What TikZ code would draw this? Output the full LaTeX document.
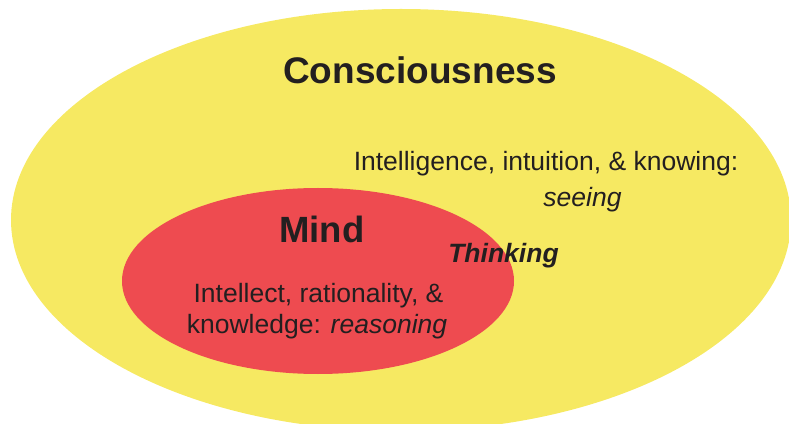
\documentclass[tikz,border=0pt]{standalone}
\usepackage{fontspec}
\setmainfont{Liberation Sans}
\definecolor{yel}{HTML}{F6E962}
\definecolor{redm}{HTML}{EE4B50}
\definecolor{ink}{HTML}{231F20}
\begin{document}
\begin{tikzpicture}[x=1pt,y=1pt,
  lbl/.style={inner sep=0pt,anchor=base,text=ink,font=\fontsize{26.5}{30}\selectfont},
  title/.style={inner sep=0pt,anchor=base,text=ink,font=\fontsize{37}{40}\selectfont\bfseries}]
\useasboundingbox (0,0) rectangle (789,423);
\begin{scope}
\clip (0,0) rectangle (789,423);
\fill[yel] (401,203) ellipse [x radius=390, y radius=211];
\end{scope}
\fill[redm] (318,142) ellipse [x radius=196, y radius=93];
\node[title] (cons) at (420,339) {Consciousness};
\node[lbl] (intel) at (546,252) {Intelligence, intuition, \& knowing:};
\node[lbl] (seeing) at (582.5,216) {\itshape seeing};
\node[lbl,font=\fontsize{26.5}{30}\selectfont\bfseries\itshape] (think) at (503.5,160) {Thinking};
\node[title,font=\fontsize{36.5}{40}\selectfont\bfseries] (mind) at (322,180) {Mind};
\node[lbl] (intellect) at (318.5,121) {Intellect, rationality, \&};
\node[lbl] (know) at (317,90) {knowledge: \textit{reasoning}};
\end{tikzpicture}
\end{document}
